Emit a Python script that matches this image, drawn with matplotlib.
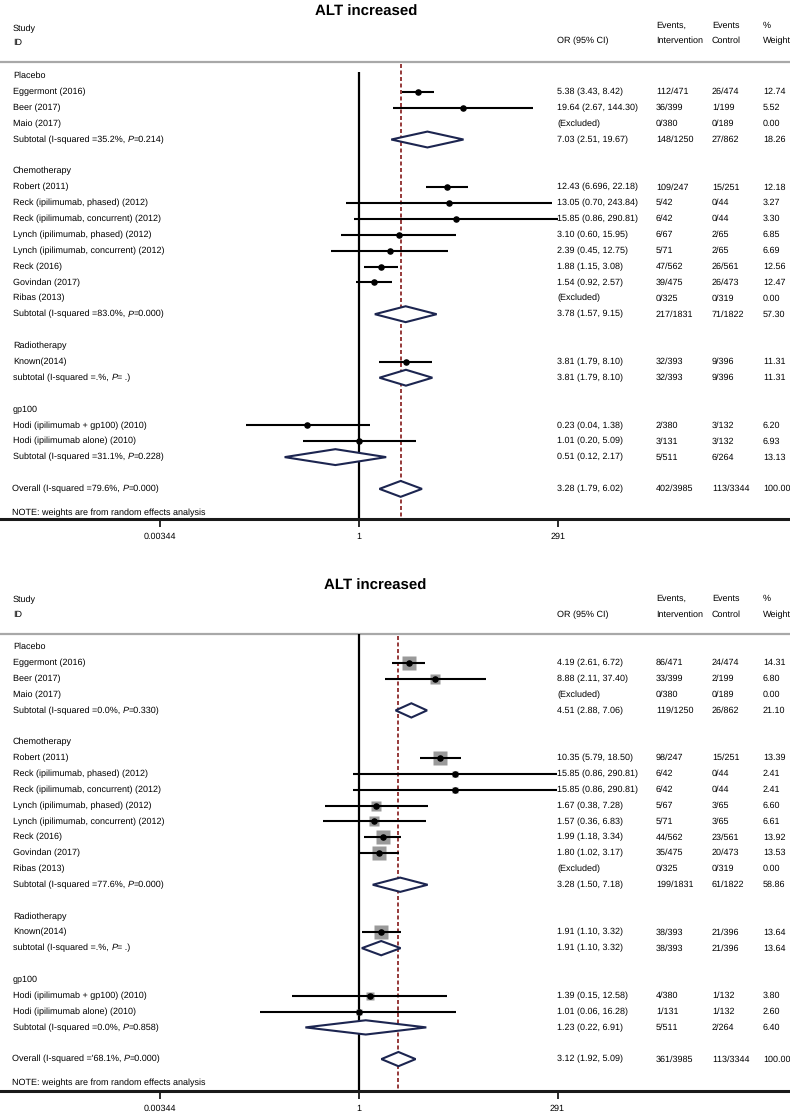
import numpy as np
import matplotlib
matplotlib.use("Agg")
import matplotlib.pyplot as plt
import matplotlib.transforms as mtransforms
from matplotlib.patches import Polygon

plt.rcParams['font.family'] = ['Liberation Sans', 'DejaVu Sans']
plt.rcParams['text.hinting'] = 'no_hinting'
plt.rcParams['text.hinting_factor'] = 1

# ---------------- data ----------------
TITLE = "ALT increased"
TICKS = [0.00344, 1, 291]
TICK_LABELS = ["0.00344", "1", "291"]
NOTE = "NOTE: weights are from random effects analysis"

# g = group header, s = study, x = excluded study, d = subtotal, - = blank, o = overall
row_kind = ['g', 's', 's', 'x', 'd', '-',
            'g', 's', 's', 's', 's', 's', 's', 's', 'x', 'd', '-',
            'g', 's', 'd', '-',
            'g', 's', 's', 'd', '-',
            'o']
row_name = ['Placebo', 'Eggermont (2016)', 'Beer (2017)', 'Maio (2017)', 'Subtotal', '',
            'Chemotherapy', 'Robert (2011)', 'Reck (ipilimumab, phased) (2012)',
            'Reck (ipilimumab, concurrent) (2012)', 'Lynch (ipilimumab, phased) (2012)',
            'Lynch (ipilimumab, concurrent) (2012)', 'Reck (2016)', 'Govindan (2017)',
            'Ribas (2013)', 'Subtotal', '',
            'Radiotherapy', 'Known(2014)', 'subtotal', '',
            'gp100', 'Hodi (ipilimumab + gp100) (2010)', 'Hodi (ipilimumab alone) (2010)',
            'Subtotal', '',
            'Overall']

nan = np.nan
# top panel (values for rows of kind s / x / d / o, in order)
top_or = [5.38, 19.64, nan, 7.03, 12.43, 13.05, 15.85, 3.10, 2.39, 1.88, 1.54, nan, 3.78,
          3.81, 3.81, 0.23, 1.01, 0.51, 3.28]
top_lo = [3.43, 2.67, nan, 2.51, 6.696, 0.70, 0.86, 0.60, 0.45, 1.15, 0.92, nan, 1.57,
          1.79, 1.79, 0.04, 0.20, 0.12, 1.79]
top_hi = [8.42, 144.30, nan, 19.67, 22.18, 243.84, 290.81, 15.95, 12.75, 3.08, 2.57, nan, 9.15,
          8.10, 8.10, 1.38, 5.09, 2.17, 6.02]
top_ev_int = ['112/471', '36/399', '0/380', '148/1250', '109/247', '5/42', '6/42', '6/67', '5/71',
              '47/562', '39/475', '0/325', '217/1831', '32/393', '32/393', '2/380', '3/131',
              '5/511', '402/3985']
top_ev_ctl = ['26/474', '1/199', '0/189', '27/862', '15/251', '0/44', '0/44', '2/65', '2/65',
              '26/561', '26/473', '0/319', '71/1822', '9/396', '9/396', '3/132', '3/132',
              '6/264', '113/3344']
top_w = [12.74, 5.52, 0.00, 18.26, 12.18, 3.27, 3.30, 6.85, 6.69, 12.56, 12.47, 0.00, 57.30,
         11.31, 11.31, 6.20, 6.93, 13.13, 100.00]
top_isq = ['35.2%', '83.0%', '.%', '31.1%', '79.6%']
top_p = ['=0.214', '=0.000', '= .', '=0.228', '=0.000']

# bottom panel
bot_or = [4.19, 8.88, nan, 4.51, 10.35, 15.85, 15.85, 1.67, 1.57, 1.99, 1.80, nan, 3.28,
          1.91, 1.91, 1.39, 1.01, 1.23, 3.12]
bot_lo = [2.61, 2.11, nan, 2.88, 5.79, 0.86, 0.86, 0.38, 0.36, 1.18, 1.02, nan, 1.50,
          1.10, 1.10, 0.15, 0.06, 0.22, 1.92]
bot_hi = [6.72, 37.40, nan, 7.06, 18.50, 290.81, 290.81, 7.28, 6.83, 3.34, 3.17, nan, 7.18,
          3.32, 3.32, 12.58, 16.28, 6.91, 5.09]
bot_ev_int = ['86/471', '33/399', '0/380', '119/1250', '98/247', '6/42', '6/42', '5/67', '5/71',
              '44/562', '35/475', '0/325', '199/1831', '38/393', '38/393', '4/380', '1/131',
              '5/511', '361/3985']
bot_ev_ctl = ['24/474', '2/199', '0/189', '26/862', '15/251', '0/44', '0/44', '3/65', '3/65',
              '23/561', '20/473', '0/319', '61/1822', '21/396', '21/396', '1/132', '1/132',
              '2/264', '113/3344']
bot_w = [14.31, 6.80, 0.00, 21.10, 13.39, 2.41, 2.41, 6.60, 6.61, 13.92, 13.53, 0.00, 58.86,
         13.64, 13.64, 3.80, 2.60, 6.40, 100.00]
bot_isq = ['0.0%', '77.6%', '.%', '0.0%', "'68.1%"]
bot_p = ['=0.330', '=0.000', '= .', '=0.858', '=0.000']

# ---------------- drawing ----------------
W, H = 790, 1115
fig = plt.figure(figsize=(W / 100, H / 100), dpi=100)

FS = 6.7     # label font size
FSN = 6.4    # numeric column font size
NAVY = '#1c2550'
RED = '#8e2a2a'
K = 35.08  # pixels per ln unit
SPACE_PT = 0.278 * FS


def fmt(v):
    return f"{v:.2f}" if abs(round(v, 2) - v) < 1e-9 else f"{v:g}"


def ftext(px, py, s, **kw):
    fig.text(px / W, 1 - py / H, s, **kw)


def draw_panel(cfg, ors, los, his, evi, evc, ws, isq, pv):
    top_y, axis_y, y0, s, x1 = cfg['top'], cfg['axis'], cfg['y0'], cfg['s'], cfg['x1']
    ax = fig.add_axes([0, 1 - axis_y / H, 1, (axis_y - top_y) / H])
    ax.set_xscale('log')
    ax.set_xlim(np.exp(-x1 / K), np.exp((W - x1) / K))
    r_bot = (axis_y - y0) / s
    r_top = (top_y - y0) / s
    ax.set_ylim(r_bot, r_top)
    for sp in ['top', 'left', 'right']:
        ax.spines[sp].set_visible(False)
    ax.spines['bottom'].set_linewidth(2.2)
    ax.spines['bottom'].set_color('#1a1a1a')
    ax.set_yticks([])
    ax.set_xticks(TICKS)
    ax.set_xticklabels(TICK_LABELS)
    ax.minorticks_off()
    ax.tick_params(axis='x', length=6, width=1.3, labelsize=FSN, pad=4, color='#1a1a1a')
    ax.patch.set_alpha(0)

    tr = mtransforms.blended_transform_factory(fig.transFigure, ax.transData)

    # title and headers
    ftext(cfg['tx'], cfg['ty'], TITLE, fontsize=11, fontweight='bold', ha='center', va='center')
    hl1, hl2 = cfg['hl']
    hr1, hr2 = cfg['hr']
    ftext(13, hl1, 'Study', fontsize=FS, va='center')
    ftext(13, hl2, 'ID', fontsize=FS, va='center')
    ftext(557, hr2, 'OR (95% CI)', fontsize=FSN, va='center')
    ftext(656, hr1, 'Events,', fontsize=FSN, va='center')
    ftext(656, hr2, 'Intervention', fontsize=FSN, va='center')
    ftext(712, hr1, 'Events', fontsize=FSN, va='center')
    ftext(712, hr2, 'Control', fontsize=FSN, va='center')
    ftext(763, hr1, '%', fontsize=FSN, va='center')
    ftext(763, hr2, 'Weight', fontsize=FSN, va='center')

    # gray header rule
    ax.axhline(r_top, color='#a8a8a8', lw=1.6, clip_on=False)

    # reference lines
    ax.vlines(1, cfg['vstart'], r_bot, color='black', lw=1.6, clip_on=False)
    ax.vlines(ors[-1], r_top + 0.15, r_bot, colors=RED, lw=1.3,
              linestyles=[(0, (2.2, 1.4))], clip_on=False)

    di = 0
    si = 0
    for r, (kind, name) in enumerate(zip(row_kind, row_name)):
        if kind == '-':
            continue
        if kind == 'g':
            ax.text(13 / W, r, name, transform=tr, fontsize=FS, va='center')
            continue
        lx = (12 if kind == 'o' else 13) / W
        if kind in ('d', 'o'):
            t1 = ax.text(lx, r, f"{name} (I-squared ={isq[si]},", transform=tr,
                         fontsize=FS, va='center')
            t2 = ax.annotate('P', xy=(1, 0), xycoords=t1, xytext=(SPACE_PT, 0),
                             textcoords='offset points', fontsize=FS, style='italic',
                             va='bottom', ha='left')
            ax.annotate(f"{pv[si]})", xy=(1, 0), xycoords=t2, fontsize=FS,
                        va='bottom', ha='left')
            si += 1
        else:
            ax.text(lx, r, name, transform=tr, fontsize=FS, va='center')
        o, lo, hi = ors[di], los[di], his[di]
        if kind == 'x':
            ax.text(557 / W, r, '(Excluded)', transform=tr, fontsize=FSN, va='center')
        else:
            ax.text(557 / W, r, f"{fmt(o)} ({fmt(lo)}, {fmt(hi)})", transform=tr,
                    fontsize=FSN, va='center')
        ax.text(656 / W, r, evi[di], transform=tr, fontsize=FSN, va='center')
        ax.text(712 / W, r, evc[di], transform=tr, fontsize=FSN, va='center')
        ax.text(763 / W, r, f"{ws[di]:.2f}", transform=tr, fontsize=FSN, va='center')
        if kind == 's':
            if cfg['boxes']:
                ax.plot(o, r, 's', ms=0.72 * 3.6 * np.sqrt(ws[di]), color='#9a9a9a',
                        mec='none', zorder=2)
            ax.hlines(r, lo, hi, color='black', lw=1.5, zorder=3)
            ax.plot(o, r, 'o', ms=3.7, color='black', zorder=4)
        elif kind in ('d', 'o'):
            hh = cfg['hh']
            poly = Polygon([[lo, r], [o, r - hh], [hi, r], [o, r + hh]], closed=True,
                           facecolor='white', edgecolor=NAVY, lw=1.5, zorder=4)
            ax.add_patch(poly)
        di += 1

    ax.text(12 / W, 27.5, NOTE, transform=tr, fontsize=FS, va='center')


top_cfg = dict(top=62, axis=519, y0=76, s=15.88, x1=359, tx=366, ty=12,
               hl=(29, 43), hr=(26, 41), vstart=-0.25, boxes=False, hh=0.5)
bot_cfg = dict(top=634, axis=1091, y0=647, s=15.85, x1=358.5, tx=375, ty=586,
               hl=(600, 615), hr=(599, 615), vstart=-0.8, boxes=True, hh=0.45)

draw_panel(top_cfg, top_or, top_lo, top_hi, top_ev_int, top_ev_ctl, top_w, top_isq, top_p)
draw_panel(bot_cfg, bot_or, bot_lo, bot_hi, bot_ev_int, bot_ev_ctl, bot_w, bot_isq, bot_p)

fig.savefig('out.png', dpi=100)
